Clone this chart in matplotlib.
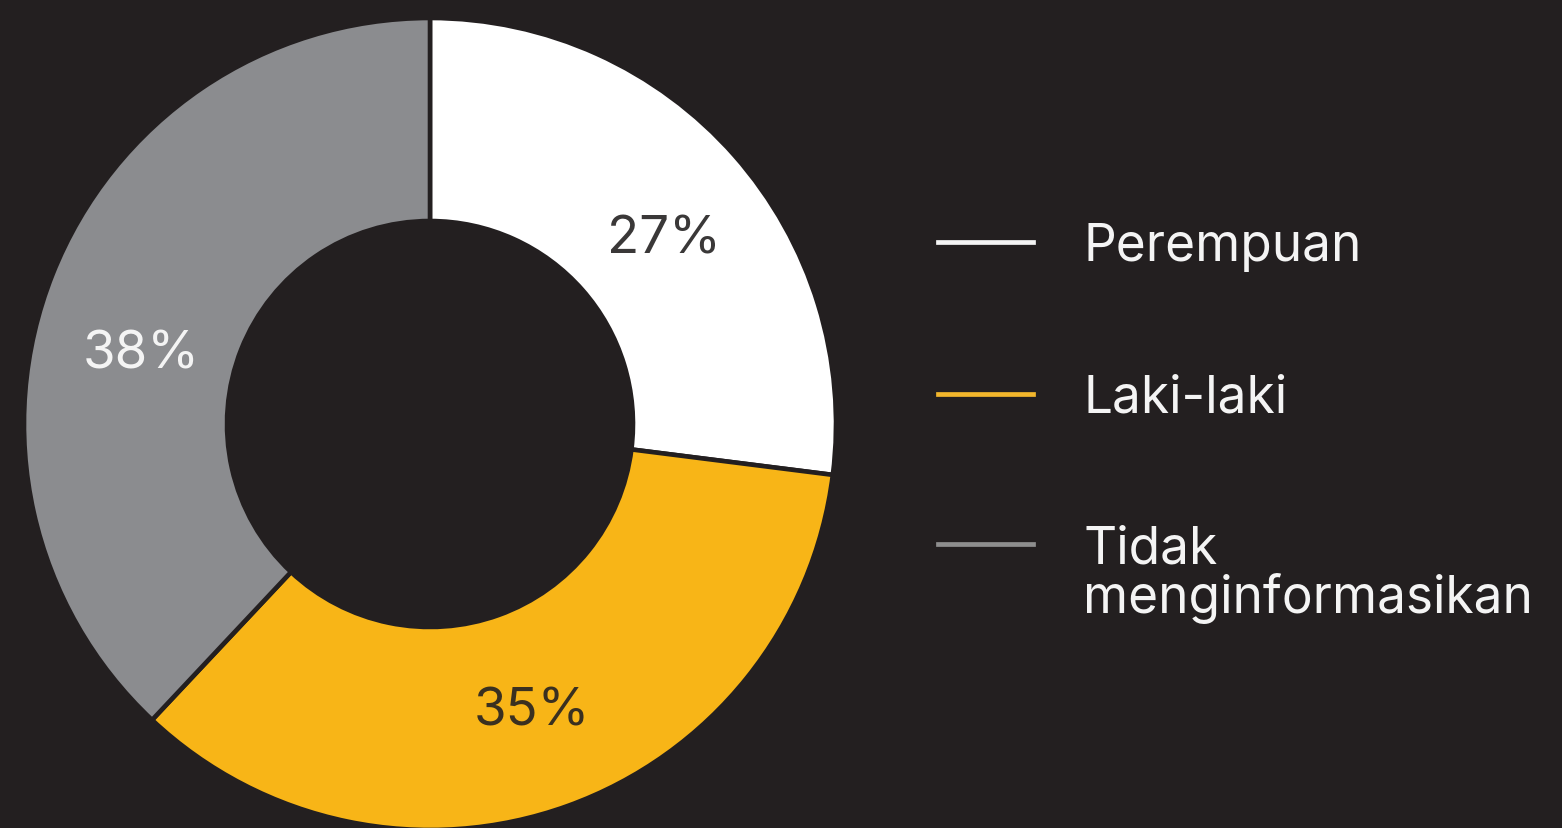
import matplotlib.pyplot as plt
from matplotlib.lines import Line2D

# Data
categories = ['Perempuan', 'Laki-laki', 'Tidak\nmenginformasikan']
shares = [27, 35, 38]
pct_labels = ['27%', '35%', '38%']

BG = '#231f20'
slice_colors = ['#ffffff', '#f8b517', '#8b8c8f']
legend_colors = ['#f4f4f4', '#f2b62c', '#8e8e8e']
pct_colors = ['#3a3838', '#3a3020', '#f4f4f4']

plt.rcParams['font.family'] = ['Inter', 'DejaVu Sans']

fig = plt.figure(figsize=(15.62, 8.29), dpi=100, facecolor=BG)

# axes box in pixels: ring centre (430, 425), radius 406
W, H = 1562, 829
cx, cy, r = 430, 425, 406
ax = fig.add_axes([(cx - r) / W, (H - cy - r) / H, 2 * r / W, 2 * r / H])
ax.set_facecolor(BG)

wedges, _ = ax.pie(shares, colors=slice_colors, startangle=90, counterclock=False,
                   radius=1.0, wedgeprops=dict(width=0.5, edgecolor=BG, linewidth=3.3))
ax.set_aspect('auto')
ax.set_xlim(-1, 1)
ax.set_ylim(-1, 1)
ax.axis('off')

# percentage labels (data coords inside the ring)
pct_pos = [(0.577, 0.456), (0.252, -0.707), (-0.712, 0.172)]
for (px, py), txt, c in zip(pct_pos, pct_labels, pct_colors):
    ax.text(px, py, txt, ha='center', va='center', fontsize=38, color=c)

# legend drawn in figure pixels
leg_y = [243, 395, 545]
for lab, c, yy in zip(categories, legend_colors, leg_y):
    fy = (H - yy) / H
    fig.add_artist(Line2D([938 / W, 1033 / W], [fy, fy], color=c, linewidth=3.4,
                          transform=fig.transFigure))
    for i, part in enumerate(lab.split('\n')):
        fig.text(1083 / W, (H - yy - 18 - i * 50) / H, part, ha='left', va='baseline',
                 fontsize=37, color='#f4f4f4')

fig.savefig('out.png', dpi=100, facecolor=BG)
